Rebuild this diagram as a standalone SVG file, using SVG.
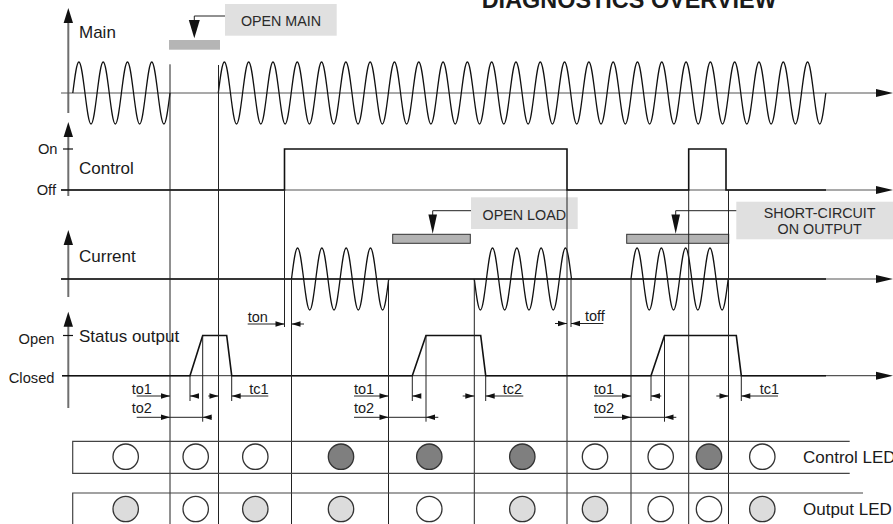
<svg xmlns="http://www.w3.org/2000/svg" width="893" height="524" viewBox="0 0 893 524">
<style>
text{font-family:"Liberation Sans",Arial,sans-serif;fill:#1a1a1a}
.lbl{font-size:17px}
.lvl{font-size:14.7px;text-anchor:end}
.dim{font-size:14.5px}
.note{font-size:14.3px;text-anchor:middle;fill:#2a2a2a}
.title{font-size:23.4px;font-weight:bold}
.ax{stroke:#555;stroke-width:1.2;fill:none}
.vax{stroke:#6f6f6f;stroke-width:2;fill:none}
.sig{stroke:#111;stroke-width:1.6;fill:none}
.wave{stroke:#111;stroke-width:1.3;fill:none}
.vl{stroke:#222;stroke-width:1;fill:none}
.box{fill:#e0e0e0}
.bar{fill:#b3b3b3;stroke:#333;stroke-width:1}
.led{stroke:#333;stroke-width:1.3}
.off{fill:#fff}.on{fill:#7f7f7f}.lt{fill:#dcdcdc}
.ah{fill:#111}
.frame{stroke:#444;stroke-width:1.2;fill:none}
</style>
<defs>
<path id="cyc" d="M0,0 c2.031,-16.28 3.887,-31 6.075,-31 c2.188,0 4.044,14.72 6.075,31 c2.031,16.28 3.887,31 6.075,31 c2.188,0 4.044,-14.72 6.075,-31"/>
<g id="cyc4"><use href="#cyc"/><use href="#cyc" x="24.3"/><use href="#cyc" x="48.6"/><use href="#cyc" x="72.9"/></g>
<path id="ar" d="M0,0 L-9,-2.8 L-9,2.8 Z"/>
<path id="al" d="M0,0 L9,-2.8 L9,2.8 Z"/>
<path id="axr" d="M0,0 L-17,-4 L-17,4 Z"/>
<path id="axu" d="M0,0 L-4.7,15 L4.7,15 Z"/>
</defs>

<g id="title"><text class="title" x="481.7" y="8" textLength="295">DIAGNOSTICS OVERVIEW</text></g>

<g id="axis-main">
<line class="vax" x1="68.3" y1="22" x2="68.3" y2="113"/>
<use href="#axu" class="ah" x="68.3" y="8"/>
<line class="ax" x1="61" y1="93" x2="877" y2="93"/>
<use href="#axr" class="ah" x="893" y="93"/>
<text class="lbl" x="79" y="38.3">Main</text>
</g>
<g id="axis-control">
<line class="vax" x1="68.3" y1="136" x2="68.3" y2="196"/>
<use href="#axu" class="ah" x="68.3" y="122"/>
<line class="ax" x1="61" y1="190" x2="877" y2="190"/>
<use href="#axr" class="ah" x="893" y="190"/>
<line class="sig" x1="63" y1="149" x2="73" y2="149" style="stroke-width:1.2"/>
<text class="lbl" x="79" y="174">Control</text>
<text class="lvl" x="57.5" y="154">On</text>
<text class="lvl" x="56" y="195.3">Off</text>
</g>
<g id="axis-current">
<line class="vax" x1="68.3" y1="244" x2="68.3" y2="297"/>
<use href="#axu" class="ah" x="68.3" y="230"/>
<line class="ax" x1="61" y1="279" x2="877" y2="279"/>
<use href="#axr" class="ah" x="893" y="279"/>
<text class="lbl" x="79" y="261.7">Current</text>
</g>
<g id="axis-status">
<line class="vax" x1="68.3" y1="326" x2="68.3" y2="408"/>
<use href="#axu" class="ah" x="68.3" y="311.7"/>
<line class="ax" x1="62" y1="375.7" x2="877" y2="375.7"/>
<use href="#axr" class="ah" x="893" y="375.7"/>
<line class="sig" x1="63" y1="335.5" x2="73" y2="335.5" style="stroke-width:1.2"/>
<text class="lbl" x="79" y="341.7">Status output</text>
<text class="lvl" x="54.5" y="344.3">Open</text>
<text class="lvl" x="54.5" y="383.3">Closed</text>
</g>

<g id="signal-main" class="wave">
<use href="#cyc4" x="72.8" y="93"/>
<use href="#cyc4" x="218.3" y="93"/>
<use href="#cyc4" x="315.5" y="93"/>
<use href="#cyc4" x="412.7" y="93"/>
<use href="#cyc4" x="509.9" y="93"/>
<use href="#cyc4" x="607.1" y="93"/>
<use href="#cyc4" x="704.3" y="93"/>
<use href="#cyc" x="801.5" y="93"/>
</g>
<g id="signal-control">
<path class="sig" d="M61,190 H284.5 V149 H567 V190 H688.7 V149 H726 V190 H826"/>
</g>
<g id="signal-current" class="wave">
<line class="sig" x1="61" y1="279" x2="826" y2="279"/>
<use href="#cyc4" x="291.5" y="279"/>
<use href="#cyc4" transform="translate(474.3,279) scale(1,-1)"/>
<use href="#cyc4" x="631" y="279"/>
</g>
<g id="signal-status">
<path class="sig" d="M62,375.7 H190 L202.7,335.5 H226.7 L231.7,375.7 H412.3 L426,335.5 H480.7 L485.7,375.7 H651 L664.5,335.5 H736.3 L741.3,375.7 H826"/>
</g>

<g id="note-open-main">
<rect class="box" x="225" y="4" width="111.7" height="31.7"/>
<text class="note" x="281" y="26">OPEN MAIN</text>
<rect x="169" y="40" width="51" height="9.7" fill="#b5b5b5"/>
<polyline class="vl" points="225,16 194.3,16 194.3,22"/>
<polygon class="ah" points="188.8,20 199.8,20 194.3,38.3"/>
</g>
<g id="note-open-load">
<rect class="box" x="471" y="197.3" width="106.7" height="31.7"/>
<text class="note" x="524.3" y="220">OPEN LOAD</text>
<rect class="bar" x="392.7" y="234.3" width="77.6" height="9"/>
<polyline class="vl" points="471,210.7 432.7,210.7 432.7,216"/>
<polygon class="ah" points="428.4,214.5 437,214.5 432.7,233.8"/>
</g>
<g id="note-short-circuit">
<rect class="box" x="736.3" y="201.7" width="160" height="37.6"/>
<text class="note" x="819.7" y="218.3">SHORT-CIRCUIT</text>
<text class="note" x="819.7" y="234.3">ON OUTPUT</text>
<rect class="bar" x="626.7" y="234.3" width="102" height="9"/>
<polyline class="vl" points="736.3,210.7 675.7,210.7 675.7,216"/>
<polygon class="ah" points="671.4,214.5 680,214.5 675.7,233.8"/>
</g>

<g id="connectors">
<path class="vl" d="M170,64.3V524 M218.5,65V524 M284.5,190V327 M291.5,279V524 M388.5,279V524 M474.3,279V524 M567,190V524 M571,279V327 M631,279V524 M688.7,190V524 M728.5,190V524"/>
<path class="vl" d="M190,375.7V401 M202.7,335.5V421.7 M231.7,375.7V401 M412.3,375.7V401 M426,335.5V421.7 M485.7,375.7V401 M651,375.7V401 M664.5,335.5V421.7 M741.3,375.7V401"/>
<path class="vl" d="M136.7,396H170 M190,396H199 M136.7,417.3H211.7 M208.3,396H218.5 M231.7,396H268.3 M247.7,324H284.5 M291.5,324H304 M354,396H388.5 M412.3,396H420.7 M354,417.3H438.3 M462.7,396H474.3 M485.7,396H523.3 M555,323.5H567 M571,323.5H603.3 M594,396H631 M651,396H661.3 M594,417.3H676.3 M716.3,396H728.5 M741.3,396H778"/>
<g class="ah">
<use href="#ar" x="170" y="396"/><use href="#ar" x="170" y="417.3"/><use href="#ar" x="218.5" y="396"/><use href="#ar" x="284.5" y="324"/>
<use href="#ar" x="388.5" y="396"/><use href="#ar" x="388.5" y="417.3"/><use href="#ar" x="474.3" y="396"/><use href="#ar" x="567" y="323.5"/>
<use href="#ar" x="631" y="396"/><use href="#ar" x="631" y="417.3"/><use href="#ar" x="728.5" y="396"/>
<use href="#al" x="190" y="396"/><use href="#al" x="202.7" y="417.3"/><use href="#al" x="231.7" y="396"/><use href="#al" x="291.5" y="324"/>
<use href="#al" x="412.3" y="396"/><use href="#al" x="426" y="417.3"/><use href="#al" x="485.7" y="396"/><use href="#al" x="571" y="323.5"/>
<use href="#al" x="651" y="396"/><use href="#al" x="664.5" y="417.3"/><use href="#al" x="741.3" y="396"/>
</g>
</g>

<g id="timing-labels" class="dim">
<text class="dim" x="131.7" y="394">to1</text><text class="dim" x="131.7" y="413">to2</text>
<text class="dim" x="249.3" y="394">tc1</text><text class="dim" x="247.7" y="321.5">ton</text>
<text class="dim" x="354" y="394">to1</text><text class="dim" x="354" y="413">to2</text>
<text class="dim" x="502.7" y="394">tc2</text><text class="dim" x="585" y="321">toff</text>
<text class="dim" x="594" y="394">to1</text><text class="dim" x="594" y="413">to2</text>
<text class="dim" x="759.7" y="394">tc1</text>
</g>

<g id="control-led">
<path class="frame" d="M849.7,441.3 H72.7 V473.3 H849.7"/>
<g class="led">
<circle class="off" cx="125.7" cy="456.7" r="12.7"/>
<circle class="off" cx="195.7" cy="456.7" r="12.7"/>
<circle class="off" cx="255.3" cy="456.7" r="12.7"/>
<circle class="on" cx="341" cy="456.7" r="12.7"/>
<circle class="on" cx="429.3" cy="456.7" r="12.7"/>
<circle class="on" cx="522.3" cy="456.7" r="12.7"/>
<circle class="off" cx="595" cy="456.7" r="12.7"/>
<circle class="off" cx="660.7" cy="456.7" r="12.7"/>
<circle class="on" cx="709" cy="456.7" r="12.7"/>
<circle class="off" cx="762.3" cy="456.7" r="12.7"/>
</g>
<text class="lbl" x="803" y="463.3">Control LED</text>
</g>
<g id="output-led">
<path class="frame" d="M863,493 H72.7 V526"/>
<g class="led">
<circle class="lt" cx="125.7" cy="509" r="12.7"/>
<circle class="off" cx="195.7" cy="509" r="12.7"/>
<circle class="lt" cx="255.3" cy="509" r="12.7"/>
<circle class="lt" cx="341" cy="509" r="12.7"/>
<circle class="off" cx="429.3" cy="509" r="12.7"/>
<circle class="lt" cx="522.3" cy="509" r="12.7"/>
<circle class="lt" cx="595" cy="509" r="12.7"/>
<circle class="off" cx="660.7" cy="509" r="12.7"/>
<circle class="off" cx="709" cy="509" r="12.7"/>
<circle class="lt" cx="762.3" cy="509" r="12.7"/>
</g>
<text class="lbl" x="803" y="514.7">Output LED</text>
</g>
</svg>
